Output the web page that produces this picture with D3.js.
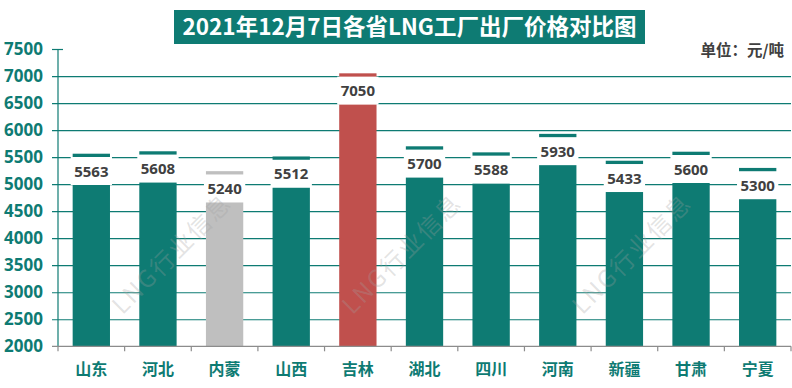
<!DOCTYPE html>
<html>
<head>
<meta charset="utf-8">
<script src="https://cdn.jsdelivr.net/npm/d3@7"></script>
<style>
    body { margin: 0; background: #fff; }
    svg { display: block; }
</style>
</head>
<body>
<svg id="chart" width="792" height="388"></svg>
<script>
var provinces = ["山东", "河北", "内蒙", "山西", "吉林", "湖北", "四川", "河南", "新疆", "甘肃", "宁夏"];
var prices = [5563, 5608, 5240, 5512, 7050, 5700, 5588, 5930, 5433, 5600, 5300];
var yTicks = [2000, 2500, 3000, 3500, 4000, 4500, 5000, 5500, 6000, 6500, 7000, 7500];
var titleText = "2021年12月7日各省LNG工厂出厂价格对比图";
var unitText = "单位：元/吨";
var watermarkText = "LNG行业信息";

var teal = "#0e7b73";
var barColor = d3.scaleOrdinal()
    .domain(["内蒙", "吉林"])
    .range(["#bfbfbf", "#c0504d"])
    .unknown(teal);

var svg = d3.select("#chart");
var plotLeft = 58, plotRight = 791, plotTop = 49, plotBottom = 346.3;

var x = d3.scaleBand()
    .domain(provinces)
    .range([plotLeft, plotRight])
    .paddingInner(0.44)
    .paddingOuter(0.22);

var y = d3.scaleLinear()
    .domain([2000, 7500])
    .range([plotBottom, plotTop]);

// gridlines
var grid = svg.append("g")
    .attr("transform", "translate(52,0)")
    .call(d3.axisRight(y).tickValues(yTicks.slice(1)).tickSize(plotRight - 52).tickFormat(""));
grid.select(".domain").remove();
grid.selectAll("line")
    .attr("stroke", teal)
    .attr("stroke-width", 1.2)
    .filter(function (d) { return d == 7500; })
    .attr("x2", 11);

// y axis labels
var yAxis = svg.append("g")
    .attr("transform", "translate(" + plotLeft + ",0)")
    .call(d3.axisLeft(y).tickValues(yTicks).tickSize(0).tickPadding(15).tickFormat(d3.format("d")));
yAxis.select(".domain").remove();
yAxis.selectAll("text")
    .attr("fill", teal)
    .attr("font-family", "'Noto Sans', sans-serif")
    .attr("font-weight", "bold")
    .attr("font-size", 17);

// bars
svg.append("g").selectAll("rect")
    .data(provinces)
    .enter().append("rect")
    .attr("x", function (d) { return x(d); })
    .attr("width", x.bandwidth())
    .attr("y", function (d, i) { return y(prices[i]); })
    .attr("height", function (d, i) { return plotBottom - y(prices[i]); })
    .attr("fill", function (d) { return barColor(d); });

// y axis line
svg.append("line")
    .attr("x1", plotLeft).attr("x2", plotLeft)
    .attr("y1", plotTop).attr("y2", plotBottom)
    .attr("stroke", teal)
    .attr("stroke-width", 1.2);

// x axis line and category ticks
svg.append("line")
    .attr("x1", 52).attr("x2", plotRight)
    .attr("y1", plotBottom).attr("y2", plotBottom)
    .attr("stroke", "#8c8c8c")
    .attr("stroke-width", 1.2);

var bounds = provinces.map(function (d) { return x(d) - x.step() * x.paddingInner() / 2; });
bounds.push(plotRight);
svg.append("g").selectAll("line")
    .data(bounds)
    .enter().append("line")
    .attr("x1", function (d) { return d; })
    .attr("x2", function (d) { return d; })
    .attr("y1", plotBottom)
    .attr("y2", plotBottom + 5)
    .attr("stroke", "#8c8c8c")
    .attr("stroke-width", 1.2);

svg.append("g").selectAll("text")
    .data(provinces)
    .enter().append("text")
    .attr("x", function (d) { return x(d) + x.bandwidth() / 2; })
    .attr("y", 375)
    .attr("text-anchor", "middle")
    .attr("fill", teal)
    .attr("font-family", "'Noto Sans CJK SC', sans-serif")
    .attr("font-weight", "bold")
    .attr("font-size", 16)
    .text(function (d) { return d; });

// value labels
var labels = svg.append("g").selectAll("g")
    .data(provinces)
    .enter().append("g");

labels.append("rect")
    .attr("x", function (d) { return x(d) - 2; })
    .attr("width", x.bandwidth() + 4)
    .attr("y", function (d, i) { return y(prices[i]) + 3.3; })
    .attr("height", 28)
    .attr("fill", "#fff");

labels.append("text")
    .attr("x", function (d) { return x(d) + x.bandwidth() / 2; })
    .attr("y", function (d, i) { return y(prices[i]) + 17.5; })
    .attr("dy", "0.36em")
    .attr("text-anchor", "middle")
    .attr("fill", "#404040")
    .attr("font-family", "'Noto Sans', sans-serif")
    .attr("font-weight", "bold")
    .attr("font-size", 15)
    .text(function (d, i) { return prices[i]; });

// watermark
[172, 402, 632].forEach(function (cx) {
    svg.append("text")
        .attr("transform", "translate(" + cx + ",254) rotate(-45)")
        .attr("text-anchor", "middle")
        .attr("dy", "0.35em")
        .attr("fill", "rgba(160,160,160,0.3)")
        .attr("font-family", "'Noto Sans CJK SC', sans-serif")
        .attr("font-size", 24)
        .attr("letter-spacing", 2)
        .text(watermarkText);
});

// title
svg.append("rect")
    .attr("x", 174).attr("y", 10)
    .attr("width", 471).attr("height", 34)
    .attr("fill", teal);

svg.append("text")
    .attr("x", 409.5).attr("y", 27)
    .attr("dy", "0.36em")
    .attr("text-anchor", "middle")
    .attr("fill", "#fff")
    .attr("font-family", "'Noto Sans CJK SC', sans-serif")
    .attr("font-weight", "bold")
    .attr("font-size", 22.5)
    .text(titleText);

svg.append("text")
    .attr("x", 784).attr("y", 50)
    .attr("dy", "0.36em")
    .attr("text-anchor", "end")
    .attr("fill", "#404040")
    .attr("font-family", "'Noto Sans CJK SC', sans-serif")
    .attr("font-weight", "bold")
    .attr("font-size", 15.5)
    .text(unitText);
</script>
</body>
</html>
